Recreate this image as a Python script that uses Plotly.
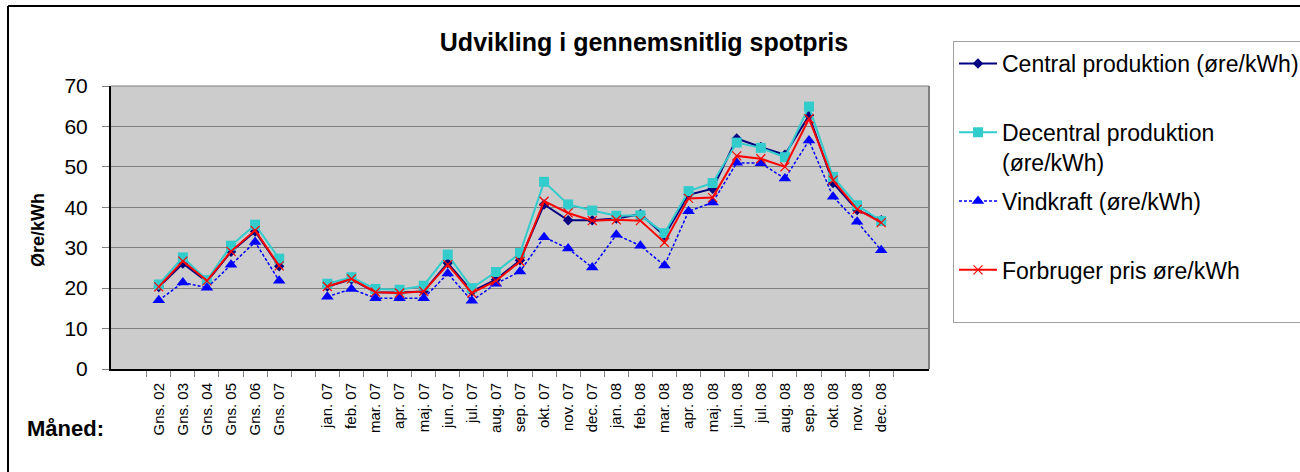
import plotly.graph_objects as go

categories = ["Gns. 02", "Gns. 03", "Gns. 04", "Gns. 05", "Gns. 06", "Gns. 07", " ",
              "jan. 07", "feb. 07", "mar. 07", "apr. 07", "maj. 07", "jun. 07",
              "jul. 07", "aug. 07", "sep. 07", "okt. 07", "nov. 07", "dec. 07",
              "jan. 08", "feb. 08", "mar. 08", "apr. 08", "maj. 08", "jun. 08",
              "jul. 08", "aug. 08", "sep. 08", "okt. 08", "nov. 08", "dec. 08"]

central = [20.3, 26.1, 21.6, 29.0, 34.0, 25.4, None,
           20.4, 22.2, 19.0, 18.9, 19.2, 26.2, 19.2, 22.1, 26.9, 40.7, 36.8, 36.8,
           37.2, 38.3, 33.0, 43.1, 44.6, 57.0, 54.9, 53.0, 62.7, 46.0, 39.3, 36.8]
decentral = [20.9, 27.6, 22.0, 30.5, 35.7, 27.3, None,
             21.1, 22.7, 19.8, 19.6, 20.6, 28.3, 20.0, 24.0, 28.7, 46.3, 40.7, 39.2,
             37.9, 38.0, 33.6, 44.0, 46.0, 56.0, 54.7, 52.4, 64.9, 47.5, 40.5, 36.6]
vindkraft = [17.0, 21.4, 20.1, 25.8, 31.4, 21.8, None,
             17.9, 19.8, 17.5, 17.5, 17.5, 23.6, 16.9, 21.1, 24.1, 32.6, 29.8, 25.1,
             33.2, 30.5, 25.6, 39.0, 41.2, 51.0, 50.9, 47.1, 56.5, 42.6, 36.4, 29.4]
forbruger = [20.3, 26.7, 21.8, 29.1, 34.3, 25.5, None,
             20.4, 22.3, 19.0, 18.8, 19.2, 25.8, 18.8, 21.8, 26.6, 41.5, 38.6, 36.7,
             36.9, 36.7, 31.3, 42.2, 42.4, 52.7, 52.0, 50.0, 61.9, 46.7, 39.5, 36.2]

names = ["Central produktion (øre/kWh)<br> ",
         "Decentral produktion<br>(øre/kWh)",
         "Vindkraft (øre/kWh)<br> ",
         "Forbruger pris øre/kWh<br> "]

W, H = 1300, 472
L, R, T, B = 111, 929, 86, 369
pw, ph = R - L, B - T


def px(x):
    return (x - L) / pw


def py(y):
    return (B - y) / ph


fig = go.Figure()
fig.add_trace(go.Scatter(x=categories, y=central, name=names[0], mode="lines+markers",
                         line=dict(color="#000080", width=2),
                         marker=dict(symbol="diamond", size=8, color="#000080"),
                         legendgroup="a"))
fig.add_trace(go.Scatter(x=categories, y=decentral, name=names[1], mode="lines+markers",
                         line=dict(color="#33CCCC", width=2),
                         marker=dict(symbol="square", size=10, color="#33CCCC"),
                         legendgroup="b"))
fig.add_trace(go.Scatter(x=categories, y=vindkraft, name=names[2], mode="lines+markers",
                         line=dict(color="#0000FF", width=1.5, dash="3px,2px"),
                         marker=dict(symbol="triangle-up", size=11, color="#0000FF"),
                         legendgroup="c"))
fig.add_trace(go.Scatter(x=categories, y=forbruger, name=names[3], mode="lines+markers",
                         line=dict(color="#FF0000", width=2),
                         marker=dict(symbol="x-thin", size=9, line=dict(color="#FF0000", width=1.2)),
                         legendgroup="d"))

fig.update_layout(
    width=W, height=H,
    margin=dict(l=L, r=W - R, t=T, b=H - B, autoexpand=False),
    paper_bgcolor="white",
    plot_bgcolor="#CCCCCC",
    font=dict(family="Liberation Sans, Arial, sans-serif", color="black"),
    title=dict(text="<b>Udvikling i gennemsnitlig spotpris</b>", x=644 / W, xanchor="center",
               y=1 - 42 / H, yanchor="middle", font=dict(size=25, color="black")),
    showlegend=True,
    legend=dict(x=px(953), xanchor="left", y=py(41), yanchor="top",
                bordercolor="#A0A0A0", borderwidth=1, bgcolor="white",
                font=dict(size=23, color="black"), traceorder="grouped",
                tracegroupgap=6, valign="top", itemwidth=38, maxheight=420),
    xaxis=dict(type="category", categoryorder="array", categoryarray=categories,
               tickangle=-90, tickfont=dict(size=15), showgrid=False,
               ticks="outside", tickson="boundaries", ticklen=6, tickcolor="#808080",
               ticklabelstandoff=6,
               showline=True, linecolor="black", linewidth=2, mirror=False),
    yaxis=dict(range=[0, 70], dtick=10, tickfont=dict(size=21), showgrid=True,
               gridcolor="#808080", gridwidth=1.2, ticks="outside", ticklen=7,
               tickcolor="#808080", zeroline=False, ticklabelstandoff=10,
               showline=True, linecolor="black", linewidth=2),
    annotations=[
        dict(text="<b>Øre/kWh</b>", x=px(38), y=py(230), xref="paper", yref="paper",
             textangle=-90, showarrow=False, font=dict(size=18), xanchor="center", yanchor="middle"),
        dict(text="<b>Måned:</b>", x=px(65), y=py(428), xref="paper", yref="paper",
             showarrow=False, font=dict(size=22), xanchor="center", yanchor="middle"),
    ],
    shapes=[
        dict(type="line", xref="paper", yref="paper", x0=px(8), x1=px(1305), y0=py(6), y1=py(6),
             line=dict(color="black", width=2)),
        dict(type="line", xref="paper", yref="paper", x0=px(8), x1=px(8), y0=py(6), y1=py(480),
             line=dict(color="black", width=2)),
        dict(type="line", xref="paper", yref="paper", x0=1, x1=1, y0=0, y1=1,
             line=dict(color="#808080", width=2)),
        dict(type="line", xref="paper", yref="paper", x0=0, x1=1, y0=1, y1=1,
             line=dict(color="#808080", width=1.2)),
    ],
)

fig.write_html("out.html", config={"displayModeBar": False},
               post_script="document.body.style.margin='0px';")
